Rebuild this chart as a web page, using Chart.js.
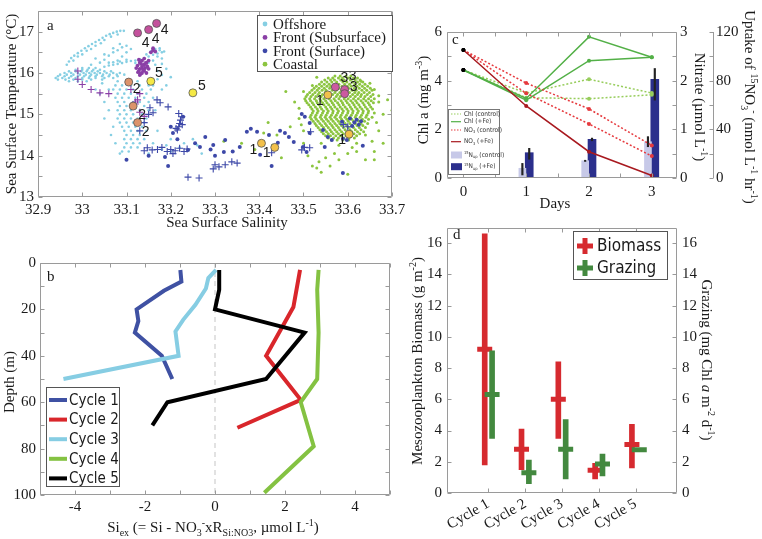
<!DOCTYPE html>
<html><head><meta charset="utf-8">
<script src="https://cdn.jsdelivr.net/npm/chart.js@4.4.1/dist/chart.umd.min.js"></script>
<style>
html,body{margin:0;padding:0;background:#fff;}
body{width:762px;height:539px;position:relative;overflow:hidden;}
canvas{position:absolute;}
</style></head><body>
<canvas id="ca" width="420" height="240" style="left:0;top:0"></canvas>
<canvas id="cb" width="400" height="299" style="left:0;top:240px"></canvas>
<canvas id="cc" width="382" height="215" style="left:380px;top:0"></canvas>
<canvas id="cd" width="382" height="324" style="left:380px;top:215px"></canvas>
<script>
// ================= DATA =================
// ---- Panel a : SST vs SSS ----
const salinityTicks = [32.9,33,33.1,33.2,33.3,33.4,33.5,33.6,33.7];
const sstTicks = [13,13.5,14,14.5,15,15.5,16,16.5,17,17.5];
// offshore cloud rows: [SST, [salinities]]
const offshoreRows = [
 [16.12,[33.0,33.015,33.03]],
 [16.08,[32.985,33.0,33.012,33.025,33.04]],
 [16.04,[32.97,32.985,32.998,33.01,33.022,33.035,33.05,33.065]],
 [16.0,[32.96,32.975,32.99,33.003,33.016,33.028,33.04,33.055,33.07,33.085]],
 [15.96,[32.95,32.965,32.98,32.995,33.008,33.02,33.033,33.047,33.062,33.078,33.095]],
 [15.92,[32.945,32.96,32.975,32.99,33.004,33.017,33.03,33.045,33.06,33.08]],
 [15.88,[32.94,32.955,32.97,32.985,33.0,33.015,33.03,33.05,33.07]],
 [15.84,[32.945,32.962,32.98,33.0,33.02,33.045]],
 [15.8,[32.97,32.99,33.01,33.08,33.1,33.125]],
 [15.7,[33.075,33.09,33.11,33.13,33.15]],
 [15.6,[33.07,33.085,33.1,33.115,33.135,33.155]],
 [15.5,[33.08,33.095,33.11,33.125,33.145]],
 [15.4,[33.075,33.09,33.105,33.12,33.14,33.16]],
 [15.3,[33.08,33.095,33.115,33.13,33.15]],
 [15.2,[33.085,33.1,33.12,33.14]],
 [15.1,[33.08,33.095,33.11,33.13,33.15,33.165]],
 [15.0,[33.085,33.1,33.115,33.135]],
 [14.9,[33.08,33.095,33.11,33.125,33.145]],
 [14.8,[33.085,33.1,33.115,33.14]],
 [14.7,[33.09,33.105,33.12,33.135]],
 [14.6,[33.095,33.11,33.125,33.145]],
 [14.5,[33.1,33.115,33.13]],
 [14.4,[33.095,33.11,33.125,33.14]],
 [14.3,[33.1,33.115,33.13]],
 [14.2,[33.095,33.11,33.125]],
 [14.1,[33.09,33.105]]
];
const offshoreExtra = [
 [32.965,16.2],[32.97,16.28],[32.975,16.36],[32.982,16.42],[32.99,16.48],[32.998,16.54],[33.006,16.6],[33.014,16.65],
 [33.022,16.7],[33.03,16.75],[33.038,16.8],[33.046,16.85],[33.054,16.9],[33.062,16.94],[33.07,16.97],[33.078,17.0],
 [33.086,17.02],[33.094,17.02],[32.99,16.4],[33.01,16.54],[33.03,16.66],[33.05,16.8],[33.065,16.88],[33.08,16.93],
 [33.02,16.58],[33.0,16.45],[33.042,16.72],[32.98,16.3],
 [33.02,16.2],[33.04,16.25],[33.03,16.35],[33.05,16.32],[33.06,16.42],[33.07,16.5],[33.08,16.55],[33.09,16.62],
 [33.1,16.66],[33.06,16.25],[33.08,16.3],[33.09,16.4],[33.05,16.45],[33.07,16.6],[33.085,16.7],[33.1,16.5],[33.11,16.58],
 [33.05,16.15],[33.06,16.18],[33.07,16.2],[33.08,16.22],[33.09,16.24],[33.1,16.27],[33.11,16.29],[33.12,16.3],
 [33.13,16.33],[33.14,16.36],[33.15,16.4],[33.16,16.44],[33.17,16.47],[33.18,16.5],[33.185,16.52],[33.175,16.55],
 [33.165,16.58],[33.155,16.52],[33.145,16.45],[33.17,16.4],[33.18,16.35],[33.16,16.3],[33.15,16.25],[33.14,16.2],
 [33.165,16.2],[33.18,16.22],[33.1,16.32],[33.085,16.28],[33.07,16.26],[33.12,16.24],[33.13,16.26],[33.175,16.6],
 [33.17,16.05],[33.18,15.95],[33.17,15.85],[33.19,15.7],[33.18,15.6],[33.2,15.9],[33.19,16.1],[33.16,15.7],
 [33.04,15.5],[33.05,15.3],[33.06,15.1],[33.05,14.9],[33.07,14.7],[33.06,15.6],[33.045,15.75],[33.03,15.6],
 [33.065,14.5],[33.075,14.3],[33.085,14.05],
 [33.15,14.05],[33.18,14.15],[33.2,14.1],[33.22,14.2],[33.24,14.15],[33.26,14.25],[33.27,14.05],[33.23,14.3],
 [33.19,14.25],[33.16,14.3],[33.17,14.6],[33.2,14.4],[33.25,14.4]
];
const coastalRows = [
 [15.93,[33.571,33.583,33.596,33.607]],
 [15.88,[33.556,33.566,33.579,33.588,33.601,33.613,33.622]],
 [15.83,[33.548,33.561,33.57,33.584,33.592,33.606,33.617,33.628]],
 [15.78,[33.541,33.553,33.564,33.575,33.589,33.598,33.611,33.622,33.634]],
 [15.73,[33.536,33.547,33.558,33.571,33.58,33.593,33.604,33.616,33.627,33.639]],
 [15.68,[33.529,33.541,33.553,33.562,33.576,33.587,33.599,33.608,33.621,33.633,33.645]],
 [15.63,[33.524,33.535,33.547,33.559,33.568,33.58,33.593,33.602,33.615,33.626,33.638,33.651]],
 [15.58,[33.519,33.531,33.542,33.551,33.565,33.574,33.586,33.597,33.61,33.619,33.632,33.643,33.655]],
 [15.53,[33.514,33.526,33.536,33.549,33.558,33.571,33.582,33.591,33.604,33.616,33.625,33.637,33.649]],
 [15.48,[33.509,33.521,33.533,33.543,33.555,33.566,33.577,33.589,33.598,33.611,33.622,33.631,33.644,33.657]],
 [15.43,[33.506,33.517,33.528,33.54,33.551,33.561,33.574,33.583,33.595,33.606,33.617,33.629,33.639,33.652]],
 [15.38,[33.503,33.514,33.525,33.537,33.546,33.558,33.569,33.58,33.592,33.601,33.613,33.624,33.636,33.647,33.66]],
 [15.33,[33.505,33.516,33.529,33.539,33.55,33.562,33.572,33.585,33.596,33.607,33.618,33.63,33.641,33.653]],
 [15.28,[33.508,33.52,33.531,33.543,33.553,33.565,33.577,33.588,33.599,33.611,33.621,33.634,33.646,33.658]],
 [15.23,[33.512,33.523,33.535,33.546,33.557,33.568,33.58,33.59,33.603,33.614,33.625,33.637,33.649]],
 [15.18,[33.516,33.527,33.538,33.55,33.561,33.571,33.583,33.594,33.606,33.617,33.628,33.64,33.652]],
 [15.13,[33.519,33.531,33.541,33.553,33.564,33.576,33.587,33.598,33.609,33.621,33.632,33.644,33.656]],
 [15.08,[33.522,33.533,33.545,33.556,33.567,33.579,33.59,33.601,33.612,33.624,33.635,33.647]],
 [15.03,[33.52,33.531,33.543,33.554,33.566,33.577,33.588,33.6,33.611,33.622,33.634,33.646,33.66]],
 [14.98,[33.517,33.528,33.54,33.551,33.563,33.574,33.585,33.597,33.608,33.619,33.631,33.643]],
 [14.93,[33.515,33.526,33.538,33.549,33.56,33.571,33.583,33.594,33.605,33.617,33.628,33.641,33.655]],
 [14.88,[33.518,33.529,33.541,33.552,33.563,33.575,33.586,33.598,33.609,33.621,33.633,33.647]],
 [14.83,[33.522,33.533,33.545,33.556,33.567,33.579,33.59,33.601,33.613,33.625,33.638]],
 [14.78,[33.526,33.537,33.549,33.56,33.571,33.582,33.594,33.605,33.617,33.63,33.645]],
 [14.73,[33.529,33.541,33.552,33.564,33.575,33.586,33.598,33.609,33.621,33.634]],
 [14.68,[33.533,33.545,33.556,33.567,33.579,33.59,33.601,33.613,33.626,33.64]],
 [14.63,[33.537,33.548,33.56,33.571,33.582,33.594,33.605,33.617,33.63]],
 [14.58,[33.541,33.552,33.563,33.575,33.586,33.598,33.609,33.622,33.636]],
 [14.53,[33.545,33.556,33.567,33.579,33.59,33.601,33.614,33.627]],
 [14.48,[33.55,33.561,33.573,33.584,33.596,33.607,33.62]],
 [14.43,[33.556,33.568,33.579,33.591,33.603,33.615]],
 [14.38,[33.563,33.576,33.589,33.602]]
];
const coastalExtra = [
 [33.46,15.55],[33.48,15.3],[33.49,14.9],[33.47,14.7],[33.44,14.5],[33.42,14.8],[33.39,14.15],[33.41,14.55],
 [33.5,14.3],[33.51,14.0],[33.52,13.75],[33.54,13.6],[33.56,13.75],[33.58,13.9],[33.6,14.05],[33.62,14.1],
 [33.64,13.9],[33.66,14.1],[33.68,14.3],[33.67,14.6],[33.68,15.0],[33.67,15.3],[33.66,15.6],[33.63,15.8],
 [33.53,15.9],[33.52,15.7],[33.69,15.35],[33.45,13.95],[33.43,14.25],[33.6,13.55],[33.66,13.9],[33.5,15.55],
 [33.7,15.1],[33.55,13.95],[33.36,14.3],[33.32,14.35],[33.5,14.6],[33.62,14.3],[33.64,14.5],[33.655,14.35],
 [33.53,13.7],[33.535,13.85],[33.49,15.15],[33.495,14.75],[33.665,14.8],[33.67,15.45],[33.65,15.75],[33.54,14.3],
 [33.58,14.25],[33.61,14.2],[33.57,14.05]
];
const frontSubDots = [
 [33.13,15.95],[33.135,16.0],[33.128,16.05],[33.14,16.05],[33.13,16.1],[33.142,16.12],[33.135,16.15],[33.125,16.18],
 [33.14,16.2],[33.13,16.25],[33.145,16.25],[33.135,16.3],[33.128,16.32],[33.14,16.35],[33.15,16.3],[33.133,16.22],
 [33.138,16.08],[33.147,16.16],[33.132,15.98],[33.16,16.55],[33.165,16.52],[33.155,16.5],[33.16,16.6],[33.126,16.02],
 [33.145,16.0],[33.122,16.12],[33.15,16.1]
];
const frontSubCross = [
 [32.99,16.05],[32.99,15.85],[33.0,15.72],[33.02,15.6],[33.04,15.52],[33.06,15.5],[33.12,15.3],[33.125,15.35],
 [33.12,15.25],[33.13,15.5],[33.11,15.6],[33.13,15.05],[33.14,14.95],[33.135,16.1],[33.14,16.2]
];
const frontSurfDots = [
 [33.1,13.9],[33.187,13.97],[33.239,14.14],[33.266,14.21],[33.278,14.45],[33.296,14.26],[33.323,14.38],[33.32,14.09],
 [33.356,14.21],[33.372,14.58],[33.381,14.65],[33.395,14.58],[33.422,14.5],[33.447,14.6],[33.458,14.55],[33.467,14.45],
 [33.442,14.31],[33.428,13.75],[33.402,14.02],[33.478,14.33],[33.496,15.01],[33.503,14.94],[33.514,14.79],[33.514,14.55],
 [33.499,14.21],[33.507,14.09],[33.555,14.45],[33.548,14.21],[33.62,14.87],[33.615,14.8],[33.625,14.75],[33.61,14.72],
 [33.587,14.82],[33.544,14.62],[33.564,14.38],[33.589,14.41],[33.598,14.38],[33.634,14.24],[33.589,13.58],[33.228,14.94],
 [33.194,13.75],[33.15,14.0],[33.205,14.55],[33.215,14.4],[33.3,14.0],[33.34,14.1],[33.255,14.3],[33.29,14.15],
 [33.2,14.7],[33.605,14.9],[33.63,14.83]
];
const frontSurfCross = [
 [33.496,14.14],[33.514,14.19],[33.309,13.73],[33.323,13.78],[33.338,13.85],[33.35,13.82],[33.296,13.68],[33.428,14.07],
 [33.516,14.58],[33.215,14.62],[33.218,14.7],[33.22,14.78],[33.222,14.86],[33.225,14.94],[33.218,15.02],[33.212,14.66],
 [33.226,14.75],[33.153,15.16],[33.16,15.04],[33.194,15.18],[33.176,15.28],[33.169,15.35],[33.147,14.19],[33.158,14.14],
 [33.14,14.12],[33.17,14.15],[33.18,14.2],[33.192,14.1],[33.2,14.15],[33.21,14.12],[33.22,14.18],[33.23,14.1],
 [33.237,14.16],[33.205,14.05],[33.239,13.48],[33.264,13.46],[33.3,13.78],[33.502,14.2],[33.13,14.6],[33.14,14.8],
 [33.15,15.0],[33.59,14.75],[33.6,14.7]
];
// highlighted stations, one list per cycle: [salinity, SST]
const cycle1Pts = [[33.405,14.3],[33.435,14.2],[33.555,15.47],[33.603,14.52]];
const cycle2Pts = [[33.105,15.78],[33.115,15.2],[33.125,14.8]];
const cycle3Pts = [[33.572,15.66],[33.593,15.6],[33.593,15.5]];
const cycle4Pts = [[33.125,16.97],[33.15,17.05],[33.168,17.2]];
const cycle5Pts = [[33.155,15.8],[33.25,15.52]];
const cycleNames = ['Cycle 1','Cycle 2','Cycle 3','Cycle 4','Cycle 5'];
const seriesA = ['Offshore','Front (Subsurface)','Front (Surface)','Coastal'];

// ---- Panel b : Si_ex profiles ----
const siTicks = [-5,-4,-3,-2,-1,0,1,2,3,4,5];
const depthTicks = [0,10,20,30,40,50,60,70,80,90,100];
const depthC1 = [3,8,12,20,25,30,40,50];
const siC1 = [-0.99,-0.96,-1.46,-2.24,-2.19,-2.29,-1.52,-1.22];
const depthC2 = [3,19,40,49,59,71];
const siC2 = [2.43,2.24,1.46,1.93,2.45,0.64];
const depthC3 = [3,6.5,11,18,24.5,29.5,40,50];
const siC3 = [0.03,-0.19,-0.26,-0.56,-0.91,-1.13,-1.04,-4.33];
const depthC4 = [3,11.5,30,50,60,79,99];
const siC4 = [2.96,2.92,2.96,2.92,2.45,2.82,1.41];
const depthC5 = [3,11.5,20,30,50,60,70];
const siC5 = [0.12,0.12,0,2.56,1.46,-1.36,-1.79];

// ---- Panel c : incubation ----
const dayTicks = [0,0.5,1,1.5,2,2.5,3];
const chlTicks = [0,1,2,3,4,5,6];
const nitrateTicks = [0,0.5,1,1.5,2,2.5,3];
const uptakeTicks = [0,20,40,60,80,100,120];
const days = [0,1,2,3];
const chlControl1 = [4.44,3.49,4.06,3.49];
const chlControl2 = [4.44,3.3,3.26,3.42];
const chlFe1 = [4.44,3.27,5.8,4.96];
const chlFe2 = [4.44,3.2,4.82,4.96];
const no3Control1 = [2.63,1.95,1.42,0.67];
const no3Control2 = [2.63,1.74,1.11,0.45];
const no3Fe = [2.63,1.48,0.54,0.05];
const uptakeDays = [1,2,3];
const uptakeControl = [8,14.2,29.8];
const uptakeFe = [20.8,31.8,81];
const uptakeControlErr = [[2.5,12],[13.6,14.6],[25.7,34]];
const uptakeFeErr = [[15.4,24.4],[30.6,32.8],[64,90]];

// ---- Panel d : mesozooplankton ----
const cycleIdx = [1,2,3,4,5];
const dYTicks = [0,2,4,6,8,10,12,14,16];
const biomassMean = [9.2,2.8,6.0,1.45,3.1];
const biomassLow = [1.8,1.5,3.5,0.9,1.6];
const biomassHigh = [16.6,4.1,8.4,1.9,4.4];
const grazingMean = [6.3,1.3,2.8,1.85,2.77];
const grazingLow = [3.5,0.6,0.9,1.1,2.77];
const grazingHigh = [9.1,2.1,4.7,2.5,2.77];

// ================= STYLE =================
const SERIF = '"Liberation Serif","Times New Roman",serif';
const SANS = '"Liberation Sans Narrow","DejaVu Sans Condensed","Liberation Sans",sans-serif';
const SANSR = '"Liberation Sans","DejaVu Sans",sans-serif';
const GRAY = '#9a9a9a';
const TXT = '#1a1a1a';
const C = {off:'#86cfe3', sub:'#8a3fa6', surf:'#3d48a8', coast:'#8cc540',
  cyc:['#f2c04a','#dc936b','#cc5aa0','#c4509c','#f5e945'],
  b:['#3f51a3','#d9262b','#86cde3','#84c242','#000000'],
  chlCtrl:'#97cd5c', chlFe:'#53b047', no3Ctrl:'#e63a3e', no3Fe:'#a8191f',
  barCtrl:'#c7c9e8', barFe:'#2b2f8c', red:'#d62a2f', green:'#43893f'};
const labelOffsets = [
 [[-8,7],[-8,6],[-8,6],[-7,6]],
 [[8,7],[9,9],[8,10]],
 [[9,-9],[8,-13],[9,-7]],
 [[8,10],[7,10],[8,7]],
 [[8,-8],[9,-7]]
];

Chart.defaults.font.family = SERIF;
Chart.defaults.color = TXT;

// ================= HELPERS =================
const rowsToPts = rows => rows.flatMap(([y,xs]) => xs.map(x => ({x, y})));
const pairsToPts = ps => ps.map(([x,y]) => ({x, y}));
const zip = (xs, ys) => xs.map((x,i) => ({x, y: ys[i]}));

function rich(ctx, parts, x, y, rot, size, family, color, align) {
  ctx.save();
  ctx.translate(x, y); ctx.rotate(rot || 0);
  ctx.fillStyle = color || TXT; ctx.textBaseline = 'alphabetic'; ctx.textAlign = 'left';
  const small = Math.round(size * 0.64);
  const f = m => (m === 'i' ? 'italic ' : '') + ((m === 'sub' || m === 'sup') ? small : size) + 'px ' + family;
  let w = 0;
  parts.forEach(([t,m]) => { ctx.font = f(m); w += ctx.measureText(t).width; });
  let cx = align === 'left' ? 0 : -w/2;
  const base = size * 0.34;
  parts.forEach(([t,m]) => {
    ctx.font = f(m);
    const dy = m === 'sub' ? size*0.26 : m === 'sup' ? -size*0.38 : 0;
    ctx.fillText(t, cx, base + dy);
    cx += ctx.measureText(t).width;
  });
  ctx.restore();
}

function drawFrame(chart, xId, yId, topTicks) {
  const {ctx, chartArea:a} = chart;
  ctx.save();
  ctx.strokeStyle = GRAY; ctx.lineWidth = 1;
  const L = Math.round(a.left)+0.5, R = Math.round(a.right)-0.5, T = Math.round(a.top)+0.5, B = Math.round(a.bottom)-0.5;
  ctx.beginPath(); ctx.rect(L, T, R-L, B-T); ctx.stroke();
  ctx.beginPath();
  const tl = 4;
  const xs = chart.scales[xId];
  xs.ticks.forEach(t => {
    const p = Math.round(xs.getPixelForValue(t.value)) + 0.5;
    ctx.moveTo(p, B); ctx.lineTo(p, B - tl);
    if (topTicks !== false) { ctx.moveTo(p, T); ctx.lineTo(p, T + tl); }
  });
  const ys = chart.scales[yId];
  ys.ticks.forEach(t => {
    const p = Math.round(ys.getPixelForValue(t.value)) + 0.5;
    ctx.moveTo(L, p); ctx.lineTo(L + tl, p);
    ctx.moveTo(R, p); ctx.lineTo(R - tl, p);
  });
  ctx.stroke();
  ctx.restore();
}

function axis(opts) {
  return {
    type: 'linear', min: opts.min, max: opts.max, position: opts.position,
    reverse: !!opts.reverse, weight: opts.weight || 0,
    grid: {display: false, drawTicks: false}, border: {display: false},
    afterBuildTicks: s => { s.ticks = opts.ticks.map(v => ({value: v})); },
    afterFit: s => {
      if (opts.width !== undefined) s.width = opts.width;
      if (opts.height !== undefined) s.height = opts.height;
      s.paddingLeft = 0; s.paddingRight = 0; s.paddingTop = 0; s.paddingBottom = 0;
    },
    ticks: {font: {family: SERIF, size: opts.size || 15}, color: TXT, padding: opts.pad === undefined ? 4 : opts.pad,
      autoSkip: false, maxRotation: opts.rot || 0, minRotation: opts.rot || 0,
      callback: opts.cb || (v => String(v))}
  };
}
const base = (padding) => ({
  responsive: false, animation: false, events: [], devicePixelRatio: 1,
  layout: {padding},
  plugins: {legend: {display: false}, tooltip: {enabled: false}, title: {display: false}}
});

// ================= PANEL A =================
const cycleSets = [cycle1Pts, cycle2Pts, cycle3Pts, cycle4Pts, cycle5Pts];
new Chart(document.getElementById('ca'), {
  type: 'scatter',
  data: {datasets: [
    {data: [...rowsToPts(offshoreRows), ...pairsToPts(offshoreExtra)], pointRadius: 1.3, pointBackgroundColor: C.off, pointBorderWidth: 0, order: 6},
    {data: [...rowsToPts(coastalRows), ...pairsToPts(coastalExtra)], pointRadius: 1.5, pointBackgroundColor: C.coast, pointBorderWidth: 0, order: 5},
    {data: pairsToPts(frontSubDots), pointRadius: 1.9, pointBackgroundColor: C.sub, pointBorderWidth: 0, order: 4},
    {data: pairsToPts(frontSubCross), pointStyle: 'cross', pointRadius: 3.5, pointBorderColor: C.sub, pointBorderWidth: 1.1, order: 4},
    {data: pairsToPts(frontSurfDots), pointRadius: 2, pointBackgroundColor: C.surf, pointBorderWidth: 0, order: 3},
    {data: pairsToPts(frontSurfCross), pointStyle: 'cross', pointRadius: 3.5, pointBorderColor: C.surf, pointBorderWidth: 1.1, order: 3},
    ...cycleSets.map((pts, i) => ({data: pairsToPts(pts), pointRadius: 4, pointBackgroundColor: C.cyc[i], pointBorderColor: '#555', pointBorderWidth: 0.8, order: 0}))
  ]},
  options: Object.assign(base({top: 11, right: 28, left: 0, bottom: 0}), {
    scales: {
      x: axis({min: 32.9, max: 33.7, ticks: salinityTicks, height: 43, pad: 4, cb: v => String(+v.toFixed(1))}),
      y: axis({min: 13, max: 17.5, ticks: sstTicks, width: 38, pad: 4, cb: v => Number.isInteger(v) ? String(v) : ''})
    }
  }),
  plugins: [{id: 'pa', afterDraw(chart) {
    const ctx = chart.ctx, xs = chart.scales.x, ys = chart.scales.y;
    drawFrame(chart, 'x', 'y');
    ctx.save();
    ctx.fillStyle = TXT; ctx.font = '14px ' + SANSR; ctx.textAlign = 'center'; ctx.textBaseline = 'middle';
    cycleSets.forEach((pts, ci) => pts.forEach((p, j) => {
      const [dx, dy] = labelOffsets[ci][j];
      ctx.fillText(String(ci + 1), xs.getPixelForValue(p[0]) + dx, ys.getPixelForValue(p[1]) + dy);
    }));
    // legend
    ctx.fillStyle = '#fff'; ctx.fillRect(257, 15, 136, 57);
    ctx.strokeStyle = '#555'; ctx.lineWidth = 1; ctx.strokeRect(257.5, 15.5, 135, 56);
    const cols = [C.off, C.sub, C.surf, C.coast];
    seriesA.forEach((s, i) => {
      const y = 24 + i * 13.4;
      ctx.fillStyle = cols[i]; ctx.beginPath(); ctx.arc(265, y, 2.4, 0, Math.PI*2); ctx.fill();
      ctx.fillStyle = TXT; ctx.font = '15px ' + SERIF; ctx.textAlign = 'left'; ctx.textBaseline = 'middle';
      ctx.fillText(s, 273, y + 1);
    });
    ctx.font = '15px ' + SERIF; ctx.fillText('a', 47, 26);
    ctx.restore();
    rich(ctx, [['Sea Surface Temperature (°C)','n']], 11, 104, -Math.PI/2, 15, SERIF);
    rich(ctx, [['Sea Surface Salinity','n']], 227, 222, 0, 15, SERIF);
  }}]
});

// ================= PANEL B =================
const profiles = [[siC1, depthC1], [siC2, depthC2], [siC3, depthC3], [siC4, depthC4], [siC5, depthC5]];
new Chart(document.getElementById('cb'), {
  type: 'line',
  data: {datasets: [
    {data: [{x: 0, y: 0}, {x: 0, y: 100}], borderColor: '#cfcfcf', borderWidth: 1.2, borderDash: [5, 4], pointRadius: 0, order: 10},
    ...profiles.map(([si, d], i) => ({data: zip(si, d), borderColor: C.b[i], borderWidth: 4, pointRadius: 0, tension: 0, fill: false, order: 5 - i}))
  ]},
  options: Object.assign(base({top: 23, right: 10, left: 0, bottom: 0}), {
    scales: {
      x: axis({min: -5, max: 5, ticks: siTicks, height: 44, pad: 3, cb: v => (v % 2 === 0 && Math.abs(v) < 5) ? String(v) : ''}),
      y: axis({min: 0, max: 100, reverse: true, ticks: depthTicks, width: 40, pad: 4, cb: v => v % 20 === 0 ? String(v) : ''})
    }
  }),
  plugins: [{id: 'pb', afterDraw(chart) {
    const ctx = chart.ctx;
    drawFrame(chart, 'x', 'y');
    ctx.save();
    ctx.fillStyle = '#fff'; ctx.fillRect(46, 147, 74, 100);
    ctx.strokeStyle = '#555'; ctx.lineWidth = 1; ctx.strokeRect(46.5, 147.5, 73, 99);
    cycleNames.forEach((n, i) => {
      const y = 160 + i * 19.6;
      ctx.strokeStyle = C.b[i]; ctx.lineWidth = 4; ctx.beginPath(); ctx.moveTo(49, y); ctx.lineTo(67, y); ctx.stroke();
      ctx.fillStyle = TXT; ctx.font = '15px ' + SANS; ctx.textAlign = 'left'; ctx.textBaseline = 'middle';
      ctx.fillText(n, 69, y + 1);
    });
    ctx.font = '15px ' + SERIF; ctx.fillStyle = TXT; ctx.textBaseline = 'middle'; ctx.fillText('b', 47, 37);
    ctx.restore();
    rich(ctx, [['Depth (m)','n']], 9, 142, -Math.PI/2, 15, SERIF);
    rich(ctx, [['Si','n'],['ex','sub'],[' (= Si - NO','n'],['3','sub'],['-','sup'],['xR','n'],['Si:NO3','sub'],[', \u00b5mol L','n'],['-1','sup'],[')','n']], 213, 287, 0, 15, SERIF);
  }}]
});

// ================= PANEL C =================
const blackFirst = col => c => c.dataIndex === 0 ? '#000' : col;
const lineDs = (vals, col, dashed, axisId, order) => ({
  type: 'line', data: zip(days, vals), borderColor: col, borderWidth: 1.5, borderDash: dashed ? [2, 2] : [],
  pointRadius: 2, pointBackgroundColor: blackFirst(col), pointBorderWidth: 0, yAxisID: axisId, order, tension: 0
});
new Chart(document.getElementById('cc'), {
  type: 'line',
  data: {datasets: [
    lineDs(chlControl1, C.chlCtrl, true, 'y', 4),
    lineDs(chlControl2, C.chlCtrl, true, 'y', 4),
    lineDs(chlFe1, C.chlFe, false, 'y', 3),
    lineDs(chlFe2, C.chlFe, false, 'y', 3),
    lineDs(no3Control1, C.no3Ctrl, true, 'y2', 2),
    lineDs(no3Control2, C.no3Ctrl, true, 'y2', 2),
    lineDs(no3Fe, C.no3Fe, false, 'y2', 1),
    {type: 'bar', data: uptakeDays.map((d, i) => ({x: d - 0.061, y: uptakeControl[i]})), backgroundColor: C.barCtrl, barThickness: 7, grouped: false, yAxisID: 'y3', order: 10},
    {type: 'bar', data: uptakeDays.map((d, i) => ({x: d + 0.048, y: uptakeFe[i]})), backgroundColor: C.barFe, barThickness: 8, grouped: false, yAxisID: 'y3', order: 10},
    {type: 'bar', data: uptakeDays.map((d, i) => ({x: d - 0.061, y: uptakeControlErr[i]})), backgroundColor: '#222', barThickness: 1.5, grouped: false, yAxisID: 'y3', order: 9},
    {type: 'bar', data: uptakeDays.map((d, i) => ({x: d + 0.048, y: uptakeFeErr[i]})), backgroundColor: '#222', barThickness: 1.5, grouped: false, yAxisID: 'y3', order: 9}
  ]},
  options: Object.assign(base({top: 32, right: 0, left: 0, bottom: 0}), {
    scales: {
      x: axis({min: 0, max: 3.14, ticks: dayTicks, height: 37, pad: 5, cb: v => Number.isInteger(v) ? String(v) : ''}),
      y: axis({min: 0, max: 6, ticks: chlTicks, width: 67, pad: 5, cb: v => v % 2 === 0 ? String(v) : ''}),
      y2: axis({min: 0, max: 3, ticks: nitrateTicks, position: 'right', width: 36, pad: 3, weight: 0, cb: v => Number.isInteger(v) ? String(v) : ''}),
      y3: axis({min: 0, max: 120, ticks: uptakeTicks, position: 'right', width: 49, pad: 3, weight: 1, cb: v => v % 40 === 0 ? String(v) : ''})
    }
  }),
  plugins: [{id: 'pc', afterDraw(chart) {
    const ctx = chart.ctx, a = chart.chartArea, s3 = chart.scales.y3;
    drawFrame(chart, 'x', 'y');
    ctx.save();
    ctx.strokeStyle = GRAY; ctx.lineWidth = 1; ctx.beginPath();
    const ax = Math.round(s3.left) + 0.5;
    ctx.moveTo(ax, a.top); ctx.lineTo(ax, a.bottom);
    s3.ticks.forEach(t => { const p = Math.round(s3.getPixelForValue(t.value)) + 0.5; ctx.moveTo(ax, p); ctx.lineTo(ax - 4, p); });
    ctx.stroke();
    // legend
    ctx.fillStyle = '#fff'; ctx.fillRect(68, 109, 52, 66);
    ctx.strokeStyle = '#777'; ctx.strokeRect(68.5, 109.5, 51, 65);
    const rows = [114, 121.7, 130, 141.7, 155, 166.7];
    const lc = [C.chlCtrl, C.chlFe, C.no3Ctrl, C.no3Fe];
    for (let i = 0; i < 4; i++) {
      ctx.strokeStyle = lc[i]; ctx.lineWidth = 1.2; ctx.setLineDash(i % 2 === 0 ? [1.5, 1.5] : []);
      ctx.beginPath(); ctx.moveTo(71, rows[i]); ctx.lineTo(81, rows[i]); ctx.stroke();
    }
    ctx.setLineDash([]);
    ctx.fillStyle = C.barCtrl; ctx.fillRect(71, rows[4] - 3.5, 11, 7);
    ctx.fillStyle = C.barFe; ctx.fillRect(71, rows[5] - 3.5, 11, 7);
    const lp = [
      [['Chl (control)','n']], [['Chl (+Fe)','n']],
      [['NO','n'],['3','sub'],[' (control)','n']], [['NO','n'],['3','sub'],[' (+Fe)','n']],
      [['15','sup'],['N','n'],['up','sub'],[' (control)','n']], [['15','sup'],['N','n'],['up','sub'],[' (+Fe)','n']]
    ];
    lp.forEach((p, i) => rich(ctx, p, 84, rows[i] - 0.5, 0, 6.5, SANS, '#333', 'left'));
    ctx.fillStyle = TXT; ctx.font = '15px ' + SERIF; ctx.textBaseline = 'middle'; ctx.textAlign = 'left';
    ctx.fillText('c', 72, 40);
    ctx.restore();
    rich(ctx, [['Chl a (mg m','n'],['-3','sup'],[')','n']], 43, 100, -Math.PI/2, 15, SERIF);
    rich(ctx, [['Days','n']], 175, 203, 0, 15, SERIF);
    rich(ctx, [['Nitrate (\u00b5mol L','n'],['-1','sup'],[')','n']], 320, 107, Math.PI/2, 15, SERIF);
    rich(ctx, [['Uptake of ','n'],['15','sup'],['NO','n'],['3','sub'],['-','sup'],[' (nmol L','n'],['-1','sup'],[' hr','n'],['-1','sup'],[')','n']], 370, 107, Math.PI/2, 15, SERIF);
  }}]
});

// ================= PANEL D =================
new Chart(document.getElementById('cd'), {
  type: 'line',
  data: {datasets: [
    {type: 'bar', data: cycleIdx.map((c, i) => ({x: c - 0.1, y: [biomassLow[i], biomassHigh[i]]})), backgroundColor: C.red, barThickness: 5, grouped: false, yAxisID: 'y', order: 4},
    {type: 'scatter', data: cycleIdx.map((c, i) => ({x: c - 0.1, y: biomassMean[i]})), pointStyle: 'line', pointRadius: 7.5, pointBorderWidth: 5, pointBorderColor: C.red, yAxisID: 'y', order: 3},
    {type: 'bar', data: cycleIdx.map((c, i) => ({x: c + 0.1, y: [grazingLow[i], grazingHigh[i]]})), backgroundColor: C.green, barThickness: 5, grouped: false, yAxisID: 'y2', order: 2},
    {type: 'scatter', data: cycleIdx.map((c, i) => ({x: c + 0.1, y: grazingMean[i]})), pointStyle: 'line', pointRadius: 7.5, pointBorderWidth: 5, pointBorderColor: C.green, yAxisID: 'y2', order: 1}
  ]},
  options: Object.assign(base({top: 8, right: 0, left: 0, bottom: 0}), {
    scales: {
      x: axis({min: 0.5, max: 5.5, ticks: cycleIdx, height: 46, pad: 2, rot: 30, size: 15, cb: v => cycleNames[v - 1] || ''}),
      y: axis({min: 0, max: 17, ticks: dYTicks, width: 67, pad: 5}),
      y2: axis({min: 0, max: 17, ticks: dYTicks, position: 'right', width: 85, pad: 5})
    }
  }),
  plugins: [{id: 'pd', afterDraw(chart) {
    const ctx = chart.ctx;
    drawFrame(chart, 'x', 'y');
    ctx.save();
    ctx.fillStyle = '#fff'; ctx.fillRect(193, 16, 95, 49);
    ctx.strokeStyle = '#555'; ctx.lineWidth = 1; ctx.strokeRect(193.5, 16.5, 94, 48);
    const items = [['Biomass', C.red, 31], ['Grazing', C.green, 53]];
    items.forEach(([t, col, y]) => {
      ctx.fillStyle = col;
      ctx.fillRect(197, y - 2.5, 16, 5);
      ctx.fillRect(202.5, y - 8, 5, 16);
      ctx.fillStyle = TXT; ctx.font = '17px ' + SANS; ctx.textAlign = 'left'; ctx.textBaseline = 'middle';
      ctx.fillText(t, 217, y + 1);
    });
    ctx.font = '15px ' + SERIF; ctx.fillText('d', 73, 20);
    ctx.restore();
    rich(ctx, [['Mesozooplankton Biomass (g m','n'],['-2','sup'],[')','n']], 37, 146, -Math.PI/2, 15, SERIF);
    rich(ctx, [['Grazing (mg Chl ','n'],['a','i'],[' m','n'],['-2','sup'],[' d','n'],['-1','sup'],[')','n']], 327, 145, Math.PI/2, 15, SERIF);
  }}]
});
</script>
</body></html>
